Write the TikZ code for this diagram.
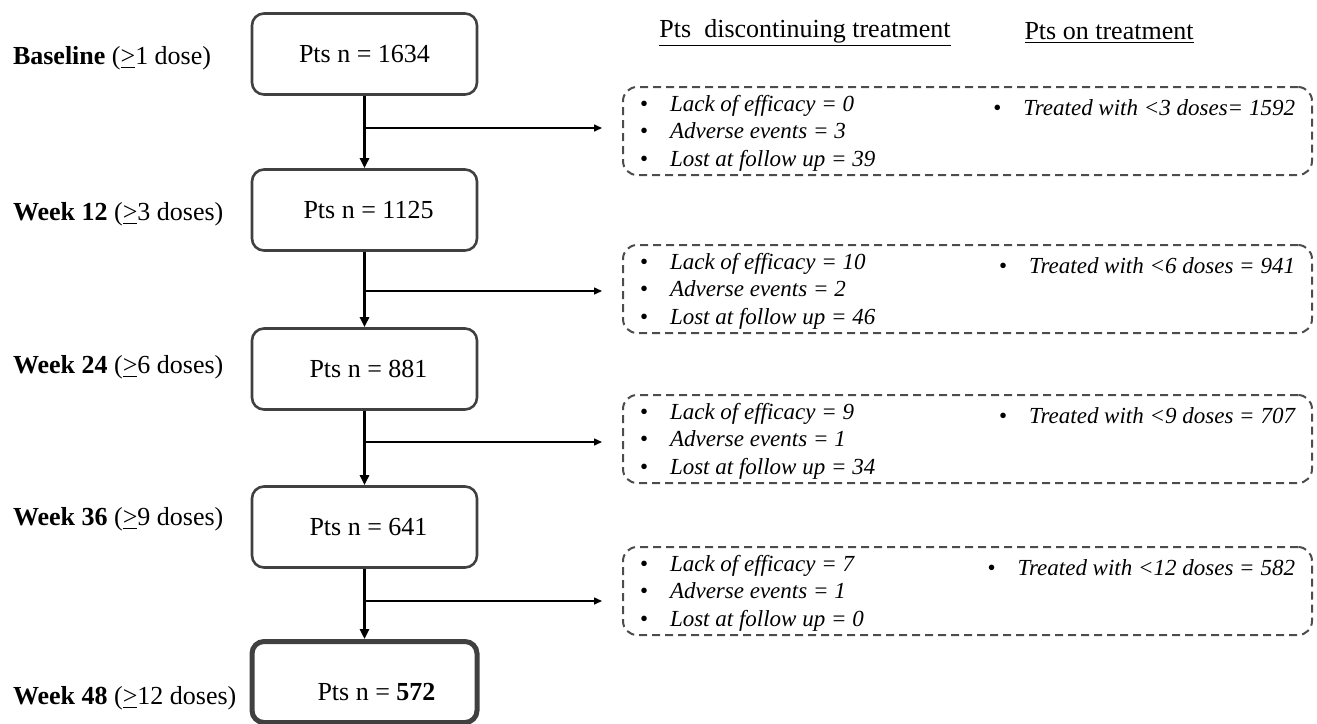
\documentclass[tikz,border=0pt]{standalone}
\usepackage{fontspec}
\setmainfont{Liberation Serif}
\usetikzlibrary{arrows.meta}

\begin{document}
\begin{tikzpicture}[x=0.5pt, y=-0.5pt, line width=1pt,
    ptsbox/.style={draw=black!75, line width=1.3pt, rounded corners=6pt,
        minimum width=112.5pt, minimum height=40.5pt, font=\fontsize{13}{15}\selectfont},
    reasonbox/.style={draw=black!70, line width=1pt, dash pattern=on 4pt off 2.5pt,
        rounded corners=7pt, minimum width=344.5pt, minimum height=44pt},
    reasonitem/.style={inner sep=0pt, font=\fontsize{11.5}{13}\selectfont\itshape},
    weeklabel/.style={inner sep=0pt, anchor=west, font=\fontsize{13}{15}\selectfont},
    mainarrow/.style={line width=1.5pt, -{Triangle[length=5pt, width=4.5pt]}},
    brancharrow/.style={line width=0.75pt, -{Triangle[length=4pt, width=3.5pt]}}]

\newcommand{\ulgt}{\underline{>}}
\newcommand{\bul}{\makebox[15pt][l]{\upshape\textbullet}}

\useasboundingbox (0,0) rectangle (1317,723);

% draw headers
\node[font=\fontsize{13}{15}\selectfont] (disc) at (805,33) {\underline{Pts\ \ discontinuing treatment}};
\node[font=\fontsize{13}{15}\selectfont] (ontrt) at (1109,33) {\underline{Pts on treatment}};

% draw week labels
\node[weeklabel] (lbase) at (12,58) {\textbf{Baseline} (\ulgt1 dose)};
\node[weeklabel] (l12) at (12,214) {\textbf{Week 12} (\ulgt3 doses)};
\node[weeklabel] (l24) at (12,367) {\textbf{Week 24} (\ulgt6 doses)};
\node[weeklabel] (l36) at (12,519) {\textbf{Week 36} (\ulgt9 doses)};
\node[weeklabel] (l48) at (12,698) {\textbf{Week 48} (\ulgt12 doses)};

% draw patient boxes
\node[ptsbox] (base) at (364.5,54) {Pts n = 1634};
\node[ptsbox] (w12) at (364.5,210) {\hspace{4pt}Pts n = 1125};
\node[ptsbox] (w24) at (364.5,369) {\hspace{4pt}Pts n = 881};
\node[ptsbox] (w36) at (364.5,527) {\hspace{4pt}Pts n = 641};
\node[ptsbox, line width=2.5pt, text height=18pt, text depth=0pt] (w48) at (364.5,682) {\hspace{12pt}Pts n = \textbf{572}};

% draw main arrows
\foreach \a/\b in {base/w12, w12/w24, w24/w36, w36/w48}
{
    \draw[mainarrow] (\a.south) -- (\b.north);
}

% draw dashed boxes with reasons
\foreach \n/\y/\by/\eff/\adv/\lost/\trt in {
    1/131/128/0/3/39/{<3 doses= 1592},
    2/289/291/10/2/46/{<6 doses = 941},
    3/439/442/9/1/34/{<9 doses = 707},
    4/591/601/7/1/0/{<12 doses = 582}}
{
    \node[reasonbox] (r\n) at (967.5,\y) {};
    \node[reasonitem, anchor=base west] (eff\n) at (639,\y-20) {\bul Lack of efficacy = \eff};
    \node[reasonitem, anchor=base west] (adv\n) at (639,\y+7) {\bul Adverse events = \adv};
    \node[reasonitem, anchor=base west] (lost\n) at (639,\y+35) {\bul Lost at follow up = \lost};
    \node[reasonitem, anchor=base east] (trt\n) at (1296,\y-16) {\bul Treated with \trt};
    \coordinate (b\n) at (364.5,\by);
    \coordinate (e\n) at (b\n -| r\n.west);
    \draw[brancharrow] (b\n) -- ([xshift=-10pt]e\n);
}

\end{tikzpicture}
\end{document}
